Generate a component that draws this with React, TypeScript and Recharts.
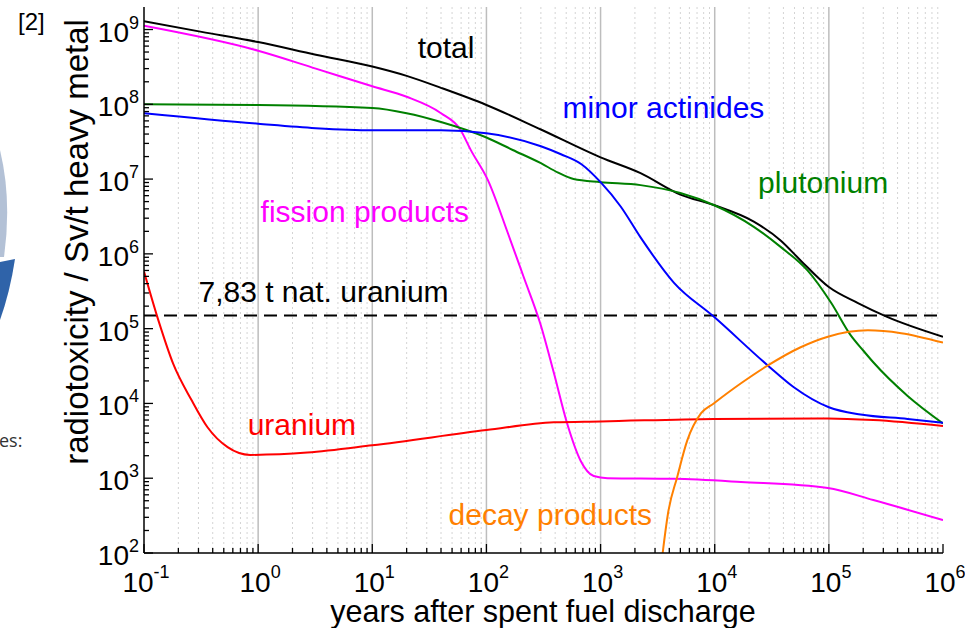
import React from "react"
import {
  CartesianGrid,
  Line,
  LineChart,
  ReferenceDot,
  ReferenceLine,
  XAxis,
  YAxis,
} from "recharts"

// radiotoxicity in Sv per tonne heavy metal vs. years after discharge
const totalYears = [0.1, 0.32, 1, 3.2, 10, 20, 40, 100, 300, 1000, 2240, 5000, 9800, 22000, 38000, 56000, 100000, 180000, 320000, 1000000]
const totalTox = [1.29e9, 9.3e8, 6.8e8, 4.6e8, 3.2e8, 2.4e8, 1.66e8, 9.8e7, 4.6e7, 1.95e7, 1.2e7, 6.2e6, 4.5e6, 2.7e6, 1.5e6, 8.3e5, 3.6e5, 2.2e5, 1.45e5, 7.8e4]

const actinideYears = [0.1, 1, 3.2, 10, 40, 100, 300, 450, 680, 1000, 1500, 2240, 4400, 9800, 30000, 49000, 100000, 190000, 490000, 1000000]
const actinideTox = [7.6e7, 5.5e7, 4.8e7, 4.5e7, 4.5e7, 4.1e7, 2.75e7, 2.15e7, 1.58e7, 9.1e6, 4.3e6, 1.66e6, 4.1e5, 1.45e5, 3.1e4, 1.66e4, 8.9e3, 7.1e3, 6.2e3, 5.5e3]

const plutoniumYears = [0.1, 1, 10, 20, 40, 100, 170, 300, 420, 580, 1000, 2240, 5000, 9800, 22000, 38000, 65000, 105000, 155000, 200000, 245000, 490000, 1000000]
const plutoniumTox = [1.0e8, 9.8e7, 8.9e7, 7.6e7, 5.8e7, 3.6e7, 2.45e7, 1.63e7, 1.23e7, 1.0e7, 9.1e6, 8.3e6, 6.5e6, 4.5e6, 2.3e6, 1.23e6, 6.0e5, 2.2e5, 8.2e4, 5.1e4, 3.55e4, 1.26e4, 5.4e3]

const fissionYears = [0.1, 1, 3.2, 10, 20, 40, 59, 73, 103, 154, 212, 299, 388, 515, 670, 871, 1150, 4400, 17000, 98000, 245000, 1000000]
const fissionTox = [1.12e9, 5.2e8, 3.0e8, 1.74e8, 1.26e8, 7.6e7, 4.6e7, 2.44e7, 9.7e6, 1.9e6, 4.9e5, 1.12e5, 2.63e4, 5.1e3, 1.7e3, 1.07e3, 1.0e3, 980, 890, 740, 510, 275]

const uraniumYears = [0.1, 0.135, 0.18, 0.26, 0.36, 0.54, 0.85, 2.7, 10, 100, 390, 1000, 9800, 98000, 245000, 1000000]
const uraniumTox = [5.8e5, 1.23e5, 3.4e4, 1.12e4, 4.8e3, 2.6e3, 2.05e3, 2.2e3, 2.75e3, 4.4e3, 5.6e3, 5.75e3, 6.2e3, 6.3e3, 6.0e3, 5.0e3]

const decayYears = [3200, 3500, 3900, 4700, 5750, 7600, 9800, 17000, 29000, 56000, 98000, 220000, 430000, 1000000]
const decayTox = [30, 100, 340, 1050, 3200, 7400, 1.0e4, 1.86e4, 3.2e4, 5.6e4, 7.8e4, 9.5e4, 8.7e4, 6.5e4]

const natUranium = 1.5e5

const xDecades = [-1, 0, 1, 2, 3, 4, 5, 6]
const yDecades = [2, 3, 4, 5, 6, 7, 8, 9]
const minorSteps = [2, 3, 4, 5, 6, 7, 8, 9]

const labels = [
  { text: "total", x: 25, y: 4.15e8, color: "#000000" },
  { text: "minor actinides", x: 465, y: 6.5e7, color: "#0000ff" },
  { text: "plutonium", x: 24000, y: 6.5e6, color: "#008000" },
  { text: "fission products", x: 1.05, y: 2.66e6, color: "#ff00ff" },
  { text: "7,83 t nat. uranium", x: 0.3, y: 2.27e5, color: "#000000" },
  { text: "uranium", x: 0.81, y: 3.8e3, color: "#ff0000" },
  { text: "decay products", x: 46.6, y: 237, color: "#ff8000" },
]

const toPoints = (xs: number[], ys: number[]) => xs.map((x, i) => ({ x, y: ys[i] }))

const decadeTicks = (decades: number[]) => decades.map((d) => Math.pow(10, d))
const withMinor = (decades: number[]) => {
  const out: number[] = []
  decades.forEach((d, i) => {
    out.push(Math.pow(10, d))
    if (i < decades.length - 1) minorSteps.forEach((k) => out.push(k * Math.pow(10, d)))
  })
  return out
}

const xMajor = decadeTicks(xDecades)
const xTicks = withMinor(xDecades)
const yTicks = withMinor(yDecades)
const xMinorGrid = xTicks.filter((v) => !xMajor.includes(v))
const xMajorGrid = xMajor.slice(1, -1)

const FONT = "'Liberation Sans', Arial, Helvetica, sans-serif"
const isMajor = (v: number) => Math.abs(Math.log10(v) - Math.round(Math.log10(v))) < 1e-9

function Tick(props: any) {
  const { x, y, payload, side } = props
  const v = payload.value
  const major = isMajor(v)
  const len = major ? 9 : 5
  const exp = Math.round(Math.log10(v))
  let line
  if (side === "bottom") line = <line x1={x} y1={y} x2={x} y2={y - len} />
  else if (side === "top") line = <line x1={x} y1={y} x2={x} y2={y + len} />
  else if (side === "left") line = <line x1={x} y1={y} x2={x + len} y2={y} />
  else line = <line x1={x} y1={y} x2={x - len} y2={y} />
  return (
    <g>
      <g stroke="#000" strokeWidth={1.3}>{line}</g>
      {major && side === "bottom" && (
        <text x={x + 2} y={y + 39} textAnchor="middle" fontSize={28} fill="#000" fontFamily={FONT}>
          10<tspan fontSize={18} dy={-14}>{exp}</tspan>
        </text>
      )}
      {major && side === "left" && (
        <text x={x - 5} y={y + 12} textAnchor="end" fontSize={28} fill="#000" fontFamily={FONT}>
          10<tspan fontSize={18} dy={-13}>{exp}</tspan>
        </text>
      )}
    </g>
  )
}

function Annotation(props: any) {
  const { viewBox, text, color } = props
  return (
    <text x={viewBox.x} y={viewBox.y} fontSize={30} fill={color} fontFamily={FONT}>
      {text}
    </text>
  )
}

const series = [
  { name: "total", xs: totalYears, ys: totalTox, color: "#000000" },
  { name: "fission", xs: fissionYears, ys: fissionTox, color: "#ff00ff" },
  { name: "plutonium", xs: plutoniumYears, ys: plutoniumTox, color: "#008000" },
  { name: "actinides", xs: actinideYears, ys: actinideTox, color: "#0000ff" },
  { name: "uranium", xs: uraniumYears, ys: uraniumTox, color: "#ff0000" },
  { name: "decay", xs: decayYears, ys: decayTox, color: "#ff8000" },
]

export default function App() {
  const axisLine = { stroke: "#000", strokeWidth: 1.5 }
  return (
    <div style={{ position: "absolute", left: 0, top: 0, width: 965, height: 628, background: "#fff" }}>
      <LineChart width={965} height={628} margin={{ top: 7, right: 22, bottom: 0, left: 0 }}>
        <CartesianGrid xAxisId="b" yAxisId="l" horizontal={false} verticalValues={xMinorGrid} stroke="#d4d4d4" strokeDasharray="2 3" />
        <CartesianGrid xAxisId="b" yAxisId="l" horizontal={false} verticalValues={xMajorGrid} stroke="#bdbdbd" strokeWidth={1.5} />
        <XAxis
          xAxisId="b"
          dataKey="x"
          type="number"
          scale="log"
          domain={[0.1, 1e6]}
          allowDataOverflow
          ticks={xTicks}
          interval={0}
          tickSize={0}
          tickMargin={0}
          tickLine={false}
          height={75}
          axisLine={axisLine}
          tick={<Tick side="bottom" />}
        />
        <XAxis
          xAxisId="t"
          orientation="top"
          dataKey="x"
          type="number"
          scale="log"
          domain={[0.1, 1e6]}
          allowDataOverflow
          ticks={xTicks}
          interval={0}
          tickSize={0}
          tickMargin={0}
          tickLine={false}
          height={0}
          axisLine={axisLine}
          tick={<Tick side="top" />}
        />
        <YAxis
          yAxisId="l"
          type="number"
          scale="log"
          domain={[100, 2e9]}
          allowDataOverflow
          ticks={yTicks}
          interval={0}
          tickSize={0}
          tickMargin={0}
          tickLine={false}
          width={144}
          axisLine={axisLine}
          tick={<Tick side="left" />}
        />
        <YAxis
          yAxisId="r"
          orientation="right"
          type="number"
          scale="log"
          domain={[100, 2e9]}
          allowDataOverflow
          ticks={yTicks}
          interval={0}
          tickSize={0}
          tickMargin={0}
          tickLine={false}
          width={0}
          axisLine={axisLine}
          tick={<Tick side="right" />}
        />
        <ReferenceLine xAxisId="b" yAxisId="l" y={natUranium} stroke="#000" strokeWidth={2} strokeDasharray="13 7" />
        {series.map((s) => (
          <Line
            key={s.name}
            xAxisId="b"
            yAxisId="l"
            data={toPoints(s.xs, s.ys)}
            dataKey="y"
            type="monotone"
            dot={false}
            stroke={s.color}
            strokeWidth={2}
            isAnimationActive={false}
          />
        ))}
        {labels.map((l) => (
          <ReferenceDot
            key={l.text}
            xAxisId="b"
            yAxisId="l"
            x={l.x}
            y={l.y}
            r={0}
            ifOverflow="visible"
            stroke="none"
            fill="none"
            label={<Annotation text={l.text} color={l.color} />}
          />
        ))}
      </LineChart>
      <svg width={965} height={628} style={{ position: "absolute", left: 0, top: 0, pointerEvents: "none" }}>
        <path d="M0,150 Q12,200 4,257 L0,257 Z" fill="#b3c1d6" />
        <path d="M0,262 L15,259 Q10,292 0,320 Z" fill="#2f63a9" />
        <text x={18} y={30} fontSize={24} fill="#000" fontFamily={FONT}>[2]</text>
        <text x={-1} y={447} fontSize={18} fill="#333" fontFamily="'Open Sans', sans-serif">es:</text>
        <text x={543} y={622} textAnchor="middle" fontSize={30.5} fill="#000" fontFamily={FONT}>
          years after spent fuel discharge
        </text>
        <text
          x={88}
          y={242}
          transform="rotate(-90 88 242)"
          textAnchor="middle"
          fontSize={33}
          fill="#000"
          fontFamily={FONT}
        >
          radiotoxicity / Sv/t heavy metal
        </text>
      </svg>
    </div>
  )
}
